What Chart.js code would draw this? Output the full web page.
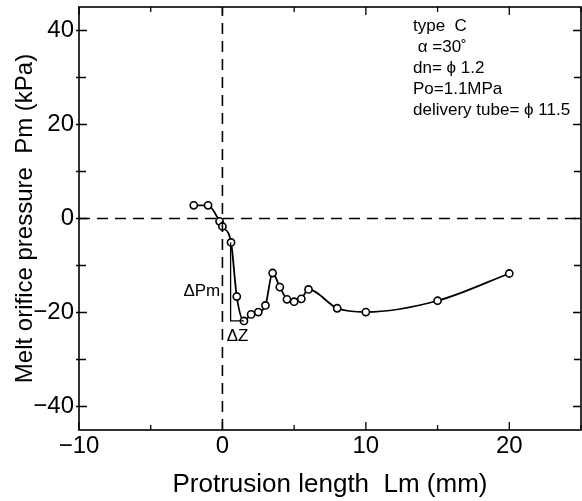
<!DOCTYPE html>
<html>
<head>
<meta charset="utf-8">
<script src="https://cdn.jsdelivr.net/npm/chart.js@4.4.0/dist/chart.umd.min.js"></script>
<style>
  html, body { margin: 0; padding: 0; background: #fff; }
  #wrap { width: 582px; height: 501px; }
</style>
</head>
<body>
<div id="wrap"><canvas id="pmGraph" width="582" height="501"></canvas></div>
<script>
// protrusion length Lm (mm) and melt orifice pressure Pm (kPa)
var lengthMm = [-2, -1, -0.2, 0, 0.6, 1, 1.5, 2, 2.5, 3, 3.5, 4, 4.5, 5, 5.5, 6, 8, 10, 15, 20];
var pressureKpa = [2.8, 2.8, -0.6, -1.7, -5.1, -16.6, -21.8, -20.4, -19.9, -18.5, -11.6, -14.6, -17.2, -17.7, -17.1, -15.1, -19.1, -19.9, -17.5, -11.7];
// delta Pm / delta Z bracket
var bracketX = [0.57, 0.57, 1.5];
var bracketY = [-5.1, -21.8, -21.8];
var xTickLabels = [-10, 0, 10, 20];
var yTickLabels = [-40, -20, 0, 20, 40];
var infoLines = ['type  C', ' \u03b1 =30\u02da', 'dn= \u03d5 1.2', 'Po=1.1MPa', 'delivery tube= \u03d5 11.5'];

var FONT = "'Liberation Sans', Arial, Helvetica, sans-serif";

function toPoints(xs, ys) {
    var pts = [];
    for (var i = 0; i < xs.length; i++) pts.push({x: xs[i], y: ys[i]});
    return pts;
}

function minusSign(v) {
    return String(v).replace('-', '\u2212');
}

var framePlugin = {
    id: 'frame',
    afterDatasetsDraw: function(chart) {
        var ctx = chart.ctx, a = chart.chartArea;
        var sx = chart.scales.x, sy = chart.scales.y;
        ctx.save();
        ctx.strokeStyle = '#000';
        ctx.lineWidth = 1.6;
        ctx.strokeRect(a.left, a.top, a.right - a.left, a.bottom - a.top);
        // inward ticks on all four sides
        ctx.lineWidth = 1.3;
        ctx.beginPath();
        for (var v = -10; v <= 25; v += 5) {
            var px = sx.getPixelForValue(v);
            var len = (v % 10 === 0) ? 8 : 5;
            ctx.moveTo(px, a.bottom); ctx.lineTo(px, a.bottom - len);
            ctx.moveTo(px, a.top); ctx.lineTo(px, a.top + len);
        }
        for (var w = -40; w <= 40; w += 10) {
            var py = sy.getPixelForValue(w);
            var l2 = (w % 20 === 0) ? 8 : 7;
            ctx.moveTo(a.left - 3, py); ctx.lineTo(a.left + l2, py);
            ctx.moveTo(a.right, py); ctx.lineTo(a.right - l2, py);
        }
        ctx.stroke();

        // info text
        ctx.fillStyle = '#000';
        ctx.textBaseline = 'middle';
        ctx.textAlign = 'left';
        ctx.font = '17px ' + FONT;
        for (var i = 0; i < infoLines.length; i++) {
            ctx.fillText(infoLines[i], 413, 26 + i * 21);
        }
        // delta labels
        ctx.font = '17px ' + FONT;
        ctx.textAlign = 'right';
        ctx.fillText('\u0394Pm', sx.getPixelForValue(-0.15), sy.getPixelForValue(-15.5));
        ctx.textAlign = 'left';
        ctx.fillText('\u0394Z', sx.getPixelForValue(0.3), sy.getPixelForValue(-25));
        ctx.restore();
    }
};

var ctx = document.getElementById('pmGraph').getContext('2d');
var graph = new Chart(ctx, {
    type: 'scatter',
    data: {
        datasets: [
            {
                data: [{x: 0, y: -45}, {x: 0, y: 45}],
                showLine: true,
                borderColor: '#000',
                borderWidth: 1.6,
                borderDash: [11, 7],
                pointRadius: 0
            },
            {
                data: [{x: -10, y: 0}, {x: 25, y: 0}],
                showLine: true,
                borderColor: '#000',
                borderWidth: 1.6,
                borderDash: [11, 7],
                pointRadius: 0
            },
            {
                data: toPoints(bracketX, bracketY),
                showLine: true,
                borderColor: '#000',
                borderWidth: 1.3,
                pointRadius: 0,
                tension: 0
            },
            {
                data: toPoints(lengthMm, pressureKpa),
                showLine: true,
                borderColor: '#000',
                borderWidth: 1.8,
                cubicInterpolationMode: 'monotone',
                pointRadius: 3.6,
                pointBorderWidth: 1.6,
                pointBackgroundColor: '#fff',
                pointBorderColor: '#000'
            }
        ]
    },
    options: {
        responsive: false,
        animation: false,
        layout: { autoPadding: false, padding: { top: 7, right: 1, left: 0, bottom: 0 } },
        scales: {
            x: {
                type: 'linear',
                min: -10,
                max: 25,
                grid: { display: false, drawTicks: false },
                border: { display: false },
                afterBuildTicks: function(s) {
                    s.ticks = xTickLabels.map(function(v) { return {value: v}; });
                },
                ticks: {
                    padding: 2,
                    color: '#000',
                    font: { family: FONT, size: 24 },
                    maxRotation: 0,
                    autoSkip: false,
                    callback: function(v) { return minusSign(v); }
                },
                title: {
                    display: true,
                    text: 'Protrusion length  Lm (mm)',
                    color: '#000',
                    font: { family: FONT, size: 26 },
                    padding: { top: 0, bottom: 1 }
                },
                afterFit: function(s) {
                    s.height = 71;
                    s.paddingLeft = 0; s.paddingRight = 0;
                }
            },
            y: {
                type: 'linear',
                min: -45,
                max: 45,
                grid: { display: false, drawTicks: false },
                border: { display: false },
                afterBuildTicks: function(s) {
                    s.ticks = yTickLabels.map(function(v) { return {value: v}; });
                },
                ticks: {
                    padding: 5,
                    color: '#000',
                    font: { family: FONT, size: 24 },
                    autoSkip: false,
                    callback: function(v) { return minusSign(v); }
                },
                title: {
                    display: true,
                    text: 'Melt orifice pressure  Pm (kPa)',
                    color: '#000',
                    font: { family: FONT, size: 24 },
                    padding: { top: 11, bottom: 0 }
                },
                afterFit: function(s) {
                    s.width = 79;
                    s.paddingTop = 0; s.paddingBottom = 0;
                }
            }
        },
        plugins: {
            legend: { display: false },
            tooltip: { enabled: false }
        }
    },
    plugins: [framePlugin]
});
</script>
</body>
</html>
